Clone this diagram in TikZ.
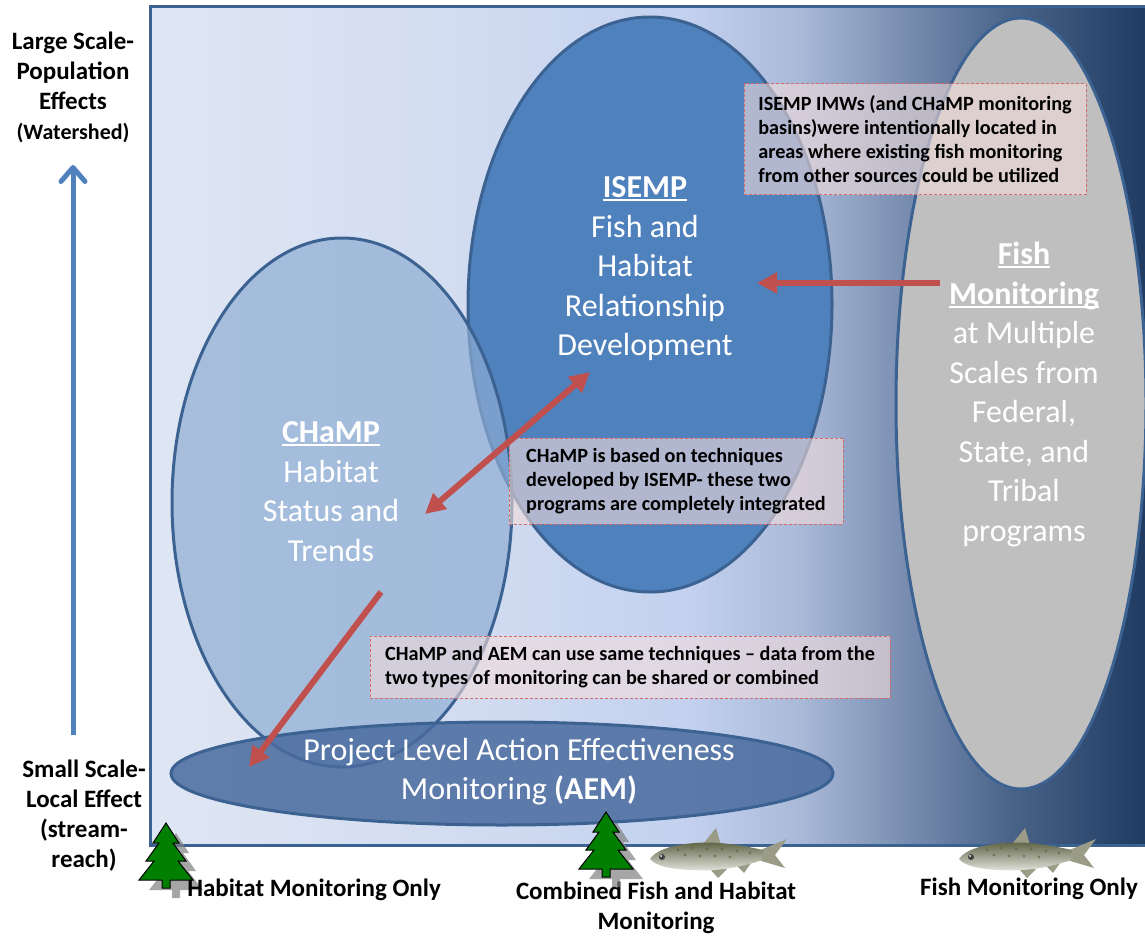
\documentclass[tikz,border=0pt]{standalone}
\usepackage{fontspec}
\setmainfont{Carlito}
\usetikzlibrary{arrows.meta,shapes.geometric}
\definecolor{isempblue}{HTML}{4F81BD}
\definecolor{champfill}{HTML}{8EADD3}
\definecolor{aemfill}{HTML}{496B9E}
\definecolor{fishgray}{HTML}{BFBFBF}
\definecolor{frameblue}{HTML}{3C6292}
\definecolor{arrowred}{HTML}{C0504D}
\definecolor{notered}{HTML}{D46A6A}
\definecolor{notefill}{HTML}{F2DCDB}
\definecolor{treegreen}{HTML}{007F00}
\definecolor{gA}{HTML}{DFE6F3}
\definecolor{gB}{HTML}{D3DDF1}
\definecolor{gC}{HTML}{C3D1EF}
\definecolor{gD}{HTML}{A9B9D8}
\definecolor{gE}{HTML}{7A8FB2}
\definecolor{gF}{HTML}{4A6389}
\definecolor{gG}{HTML}{1E3A60}
\definecolor{fishtop}{HTML}{5A6040}
\definecolor{fishmid}{HTML}{A8AA96}
\definecolor{fishbot}{HTML}{E8E8E2}
\definecolor{finclr}{HTML}{9A9C88}
\newsavebox\ulbox
\newcommand\ulx[1]{\sbox\ulbox{#1}\mbox{\rlap{\rule[-0.11em]{\wd\ulbox}{0.065em}}\usebox\ulbox}}
\tikzset{
  ell/.style={ellipse, draw=frameblue, line width=3, inner sep=0},
  bigtext/.style={text=white, align=center, font=\fontsize{32}{39.5}\selectfont},
  note/.style={draw=notered, dash pattern=on 3pt off 2pt, line width=1, fill=notefill,
    fill opacity=0.6, text opacity=1, text=black, align=left, inner sep=0,
    font=\bfseries\fontsize{20.2}{24}\selectfont},
  redarrow/.style={draw=arrowred, line width=6},
  sidelabel/.style={align=center, font=\bfseries\fontsize{25}{30}\selectfont},
  pine/.pic={
    \begin{scope}[shift={(10,10)}]
      \fill[gray, opacity=0.7] (0,0) -- (13,20) -- (7,20) -- (20,38) -- (12,38) -- (27,57) -- (4,57) -- (4,65) -- (-4,65) -- (-4,57) -- (-27,57) -- (-12,38) -- (-20,38) -- (-7,20) -- (-13,20) -- cycle;
    \end{scope}
    \filldraw[fill=treegreen, draw=black, line width=1] (0,0) -- (13,20) -- (7,20) -- (20,38) -- (12,38) -- (27,57) -- (4,57) -- (4,65) -- (-4,65) -- (-4,57) -- (-27,57) -- (-12,38) -- (-20,38) -- (-7,20) -- (-13,20) -- cycle;
  },
  fishy/.pic={
    \fill[finclr] (53,16) -- (66,0) -- (71,17) -- cycle;
    \fill[finclr] (108,23) -- (137,11) -- (125,27) -- (135,40) -- (108,32) -- cycle;
    \fill[finclr] (60,41) -- (68,50) -- (77,41) -- cycle;
    \fill[finclr] (86,37) -- (94,45) -- (101,35) -- cycle;
    \shade[top color=fishtop, middle color=fishmid, bottom color=fishbot]
      (0,31) .. controls (5,23) and (20,17) .. (45,15) .. controls (70,13) and (95,18) .. (113,22)
      -- (112,32) .. controls (95,38) and (70,44) .. (40,42) .. controls (20,41) and (6,38) .. (0,31) -- cycle;
    \foreach \p in {(28,22),(42,20),(57,21),(72,21),(87,23),(100,25),(50,28),(65,28),(80,29),(35,27)}
      \fill[fishtop, opacity=0.6] \p circle (1.6);
    \fill[black!75] (12,29) circle (3);
    \fill[white] (11,28) circle (1);
  }
}
\begin{document}
\begin{tikzpicture}[x=1pt,y=-1pt]
\useasboundingbox (0,0) rectangle (1145,936);
\begin{scope}
\clip (0,0) rectangle (1145,936);
% background gradient of the frame
\shade[left color=gA, right color=gB] (150,7) rectangle (451,845);
\shade[left color=gB, right color=gC] (450,7) rectangle (691,845);
\shade[left color=gC, right color=gD] (690,7) rectangle (801,845);
\shade[left color=gD, right color=gE] (800,7) rectangle (901,845);
\shade[left color=gE, right color=gF] (900,7) rectangle (1011,845);
\shade[left color=gF, right color=gG] (1010,7) rectangle (1150,845);
\draw[frameblue, line width=3] (150,7) rectangle (1152,845);

% ellipses
\node[ell, fill=fishgray, minimum width=250, minimum height=771] (fishell) at (1021,403.5) {};
\node[ell, fill=isempblue, minimum width=364, minimum height=575] (isemp) at (650,304.5) {};
\node[ell, fill=champfill, fill opacity=0.69, minimum width=340, minimum height=529] (champ) at (342,502.5) {};
\node[ell, fill=aemfill, fill opacity=0.85, minimum width=662, minimum height=103] (aem) at (502,773.5) {};

% ellipse texts
\node[bigtext] (isempt) at (645,269) {\ulx{\textbf{ISEMP}}\\Fish and\\Habitat\\Relationship\\Development};
\node[bigtext] (champt) at (331,491.5) {\ulx{\textbf{CHaMP}}\\Habitat\\Status and\\Trends};
\node[bigtext] (fisht) at (1024,394.5) {\ulx{\textbf{Fish}}\\\ulx{\textbf{Monitoring}}\\at Multiple\\Scales from\\Federal,\\State, and\\Tribal\\programs};
\node[bigtext] (aemt) at (519,771.5) {Project Level Action Effectiveness\\Monitoring \textbf{(AEM)}};

% notes
\node[note, minimum width=342, minimum height=111] (note1) at (915,139.5) {ISEMP IMWs (and CHaMP monitoring\\basins)were intentionally located in\\areas where existing fish monitoring\\from other sources could be utilized};
\node[note, minimum width=334, minimum height=86] (note2) at (676,481) {CHaMP is based on techniques\\developed by ISEMP- these two\\programs are completely integrated};
\node[note, minimum width=520, minimum height=62] (note3) at (630,667) {CHaMP and AEM can use same techniques -- data from the\\two types of monitoring can be shared or combined};

% red arrows
\coordinate (r1a) at (940,283);
\coordinate (r1b) at (757,283);
\coordinate (r2a) at (590,372);
\coordinate (r2b) at (425,514);
\coordinate (r3a) at (381,592);
\coordinate (r3b) at (249,767);
\draw[redarrow, -{Triangle[length=20pt,width=20pt]}] (r1a) -- (r1b);
\draw[redarrow, {Triangle[length=20pt,width=20pt]}-{Triangle[length=20pt,width=20pt]}] (r2a) -- (r2b);
\draw[redarrow, -{Triangle[length=20pt,width=20pt]}] (r3a) -- (r3b);

% vertical scale arrow
\coordinate (ba) at (73,735);
\coordinate (bb) at (73,165);
\draw[isempblue, line width=5, -{Straight Barb[length=14pt,width=24pt,round]}] (ba) -- (bb);

% side labels
\node[sidelabel] (large) at (73,87) {Large Scale-\\Population\\Effects\\{\fontsize{22}{30}\selectfont(Watershed)}};
\node[sidelabel] (small) at (84,815.5) {Small Scale-\\Local Effect\\(stream-\\reach)};

% bottom legend
\pic at (166,823) {pine};
\node[sidelabel] (hab) at (314,890) {Habitat Monitoring Only};
\node[sidelabel] (comb) at (656,907.5) {Combined Fish and Habitat\\Monitoring};
\pic at (606,812) {pine};
\pic at (650,828) {fishy};
\pic at (959,828) {fishy};
\node[sidelabel] (fonly) at (1029,889) {Fish Monitoring Only};
\end{scope}
\end{tikzpicture}
\end{document}
